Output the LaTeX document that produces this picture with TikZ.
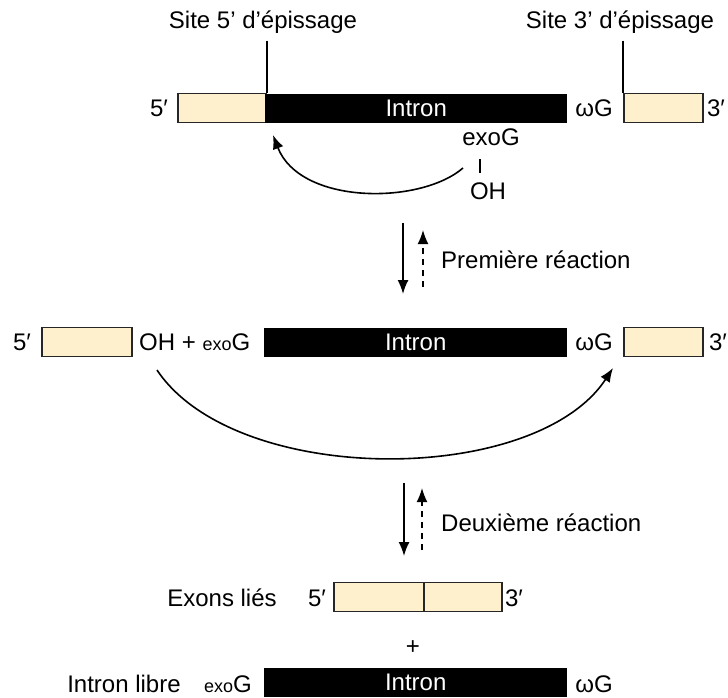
\documentclass[tikz,border=0pt]{standalone}
\usepackage{fontspec}
\setmainfont{Liberation Sans}
\usetikzlibrary{arrows.meta}
\definecolor{exonbeige}{RGB}{254,240,205}
\tikzset{
  lbl/.style={font=\fontsize{24}{26}\selectfont, inner sep=0pt},
  exonbox/.style={draw=black!85, fill=exonbeige, line width=1.8pt, minimum height=29pt, inner sep=0pt, anchor=west},
  intronbox/.style={fill=black, text=white, font=\fontsize{24}{26}\selectfont, minimum height=29pt, inner sep=0pt, anchor=west},
  flow/.style={line width=1.6pt, -{Latex[length=14pt,width=11pt]}},
  back/.style={flow, dash pattern=on 6pt off 5pt},
}
\newcommand{\exo}{{\fontsize{18}{20}\selectfont exo}}
\begin{document}
\begin{tikzpicture}[x=1pt,y=-1pt]
\useasboundingbox (0,0) rectangle (728,697);
\node[lbl] (site5) at (263,22) {Site 5’ d’épissage};
\node[lbl] (site3) at (620,22) {Site 3’ d’épissage};
\node[lbl] (p5a) at (159,108) {5′};
\node[exonbox, minimum width=88pt] (ex5a) at (177,108) {};
\node[intronbox, minimum width=302pt] (inta) at (265,108) {Intron};
\node[lbl] (wa) at (594,108) {ωG};
\node[exonbox, minimum width=79pt] (ex3a) at (623,108) {};
\node[lbl] (p3a) at (716,108) {3′};
\node[lbl] (exoga) at (491,137) {exoG};
\node[lbl] (oha) at (488,191) {OH};
\coordinate (s5) at ([yshift=52pt]ex5a.north east);
\coordinate (s3) at ([yshift=52pt]ex3a.north west);
\coordinate (b1) at (480,159);
\coordinate (b2) at (480,173);
\coordinate (ca1) at (463,168);
\coordinate (ca2) at (273,135);
\draw[line width=1.5pt] (s5) -- (ex5a.north east);
\draw[line width=1.5pt] (s3) -- (ex3a.north west);
\draw[line width=1.5pt] (b1) -- (b2);
\draw[flow] (ca1) .. controls (420,205) and (300,205) .. (ca2);
\coordinate (d1a) at (403,223);
\coordinate (d1b) at (403,294);
\coordinate (u1a) at (423,287);
\coordinate (u1b) at (423,230);
\draw[flow] (d1a) -- (d1b);
\draw[back] (u1a) -- (u1b);
\node[lbl, anchor=west] (reac1) at (441,260) {Première réaction};
\node[lbl] (p5b) at (22,342) {5′};
\node[exonbox, minimum width=90pt] (ex5b) at (41,342) {};
\node[lbl, anchor=west] (ohb) at (139,342) {OH + \exo G};
\node[intronbox, minimum width=303pt] (intb) at (264,342) {Intron};
\node[lbl] (wb) at (594,342) {ωG};
\node[exonbox, minimum width=79pt] (ex3b) at (623,342) {};
\node[lbl] (p3b) at (718,342) {3′};
\coordinate (cb1) at (157,370);
\coordinate (cb2) at (613,368);
\draw[flow] (cb1) .. controls (235,487) and (535,487) .. (cb2);
\coordinate (d2a) at (404,483);
\coordinate (d2b) at (404,556);
\coordinate (u2a) at (422,550);
\coordinate (u2b) at (422,488);
\draw[flow] (d2a) -- (d2b);
\draw[back] (u2a) -- (u2b);
\node[lbl, anchor=west] (reac2) at (441,523) {Deuxième réaction};
\node[lbl] (lies) at (222,598) {Exons liés};
\node[lbl] (p5c) at (317,598) {5′};
\node[exonbox, minimum width=90pt] (ex5c) at (333,597) {};
\node[exonbox, minimum width=78pt] (ex3c) at (423,597) {};
\node[lbl] (p3c) at (514,598) {3′};
\node[lbl] (plus) at (413,648) {+};
\node[lbl] (libre) at (124,684) {Intron libre};
\node[lbl] (exogc) at (228,684) {\exo G};
\node[intronbox, minimum width=303pt] (intc) at (264,682) {Intron};
\node[lbl] (wc) at (594,684) {ωG};
\end{tikzpicture}
\end{document}
